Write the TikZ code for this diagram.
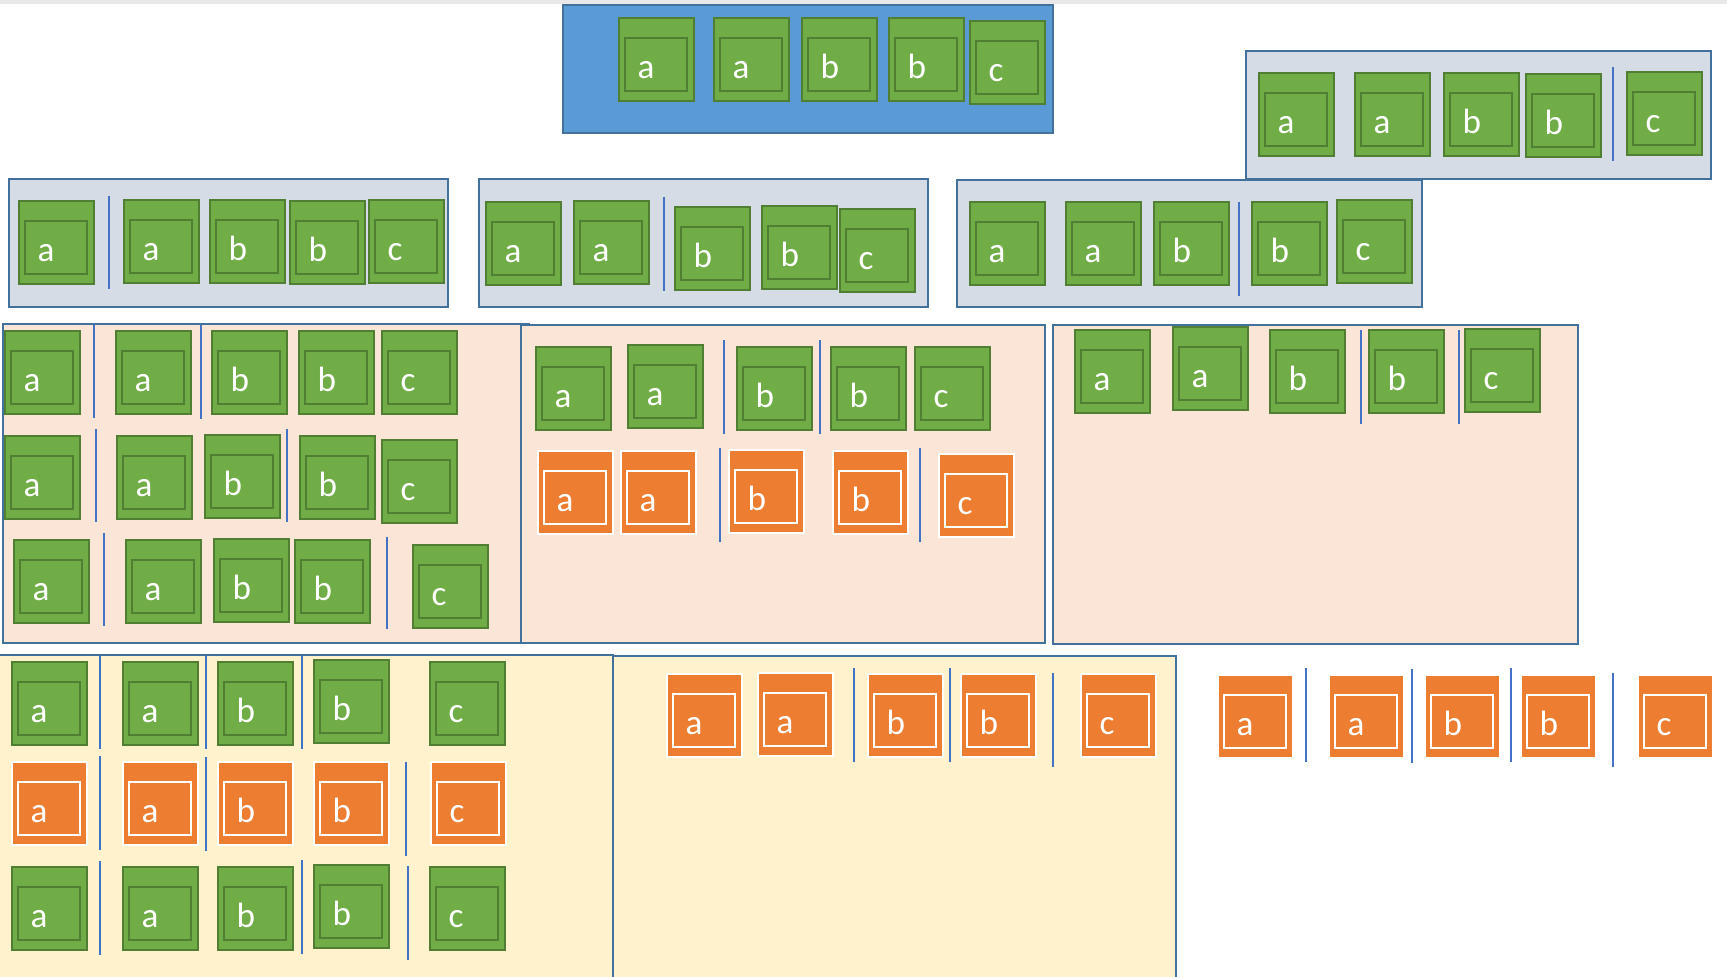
\documentclass[tikz,border=0pt]{standalone}
\usepackage{fontspec}
\setmainfont{Carlito}
\usepackage{tikz}

\definecolor{gfill}{HTML}{70AD47}
\definecolor{gdraw}{HTML}{507E32}
\definecolor{ofill}{HTML}{ED7D31}
\definecolor{sepblue}{HTML}{4472C4}
\definecolor{pborder}{HTML}{41719C}
\definecolor{bluefill}{HTML}{5B9BD5}
\definecolor{grayfill}{HTML}{D6DCE5}
\definecolor{peachfill}{HTML}{FBE5D6}
\definecolor{yellowfill}{HTML}{FFF2CC}

% 一个方块: #1 = g/o, #2 = 名字, #3,#4 = 左上角, #5 = 字母
\newcommand{\blk}[5]{%
  \node[#1out] (#2) at (#3,#4) {};
  \node[#1in] (#2in) at ([shift={(6,20)}]#2.north west) {};
  \node[ltr] (#2t) at ([shift={(18,61)}]#2.north west) {#5};
}

\begin{document}
\begin{tikzpicture}[
                x=0.01cm, y=-0.01cm,
                gout/.style={
                    rectangle,
                    draw=gdraw,
                    fill=gfill,
                    line width=0.55pt,
                    minimum width=7.5mm,
                    minimum height=8.3mm,
                    inner sep=0,
                    outer sep=0,
                    anchor=north west
                },
                gin/.style={
                    rectangle,
                    draw=gdraw,
                    line width=0.55pt,
                    minimum width=6.2mm,
                    minimum height=5.3mm,
                    inner sep=0,
                    outer sep=0,
                    anchor=north west
                },
                oout/.style={gout, draw=white, fill=ofill, line width=0.75pt},
                oin/.style={gin, draw=white, line width=0.75pt},
                ltr/.style={
                    anchor=base west,
                    inner sep=0,
                    text=white,
                    font=\fontsize{10}{12}\selectfont
                },
                sepl/.style={draw=sepblue, line width=0.8pt},
                panel/.style={draw=pborder, line width=0.5pt}
            ]
            \useasboundingbox (0,0) rectangle (1727,977);
            \clip (0,0) rectangle (1727,977);
            \fill[gray!18] (0,0) rectangle (1727,4);

            % 底板
            \draw[panel, fill=bluefill] (563,5) rectangle (1053,133);
            \draw[panel, fill=grayfill] (1246,51) rectangle (1711,179);
            \draw[panel, fill=grayfill] (9,179) rectangle (448,307);
            \draw[panel, fill=grayfill] (479,179) rectangle (928,307);
            \draw[panel, fill=grayfill] (957,180) rectangle (1422,307);
            \draw[panel, fill=peachfill] (3,324) rectangle (529,643);
            \draw[panel, fill=peachfill] (521,325) rectangle (1045,643);
            \draw[panel, fill=peachfill] (1053,325) rectangle (1578,644);
            \draw[panel, fill=yellowfill] (-3,655) rectangle (613,990);
            \draw[panel, fill=yellowfill] (613,656) rectangle (1176,990);

            % 第一行
            \foreach \x/\y/\lt [count=\i] in {619/18/a, 714/18/a, 802/18/b, 889/18/b, 970/21/c}
                {\blk{g}{top\i}{\x}{\y}{\lt}}
            \foreach \x/\y/\lt [count=\i] in {1259/73/a, 1355/73/a, 1444/73/b, 1526/74/b, 1627/72/c}
                {\blk{g}{tr\i}{\x}{\y}{\lt}}
            \draw[sepl] (1613,67) -- (1613,161);

            % 第二行
            \foreach \x/\y/\lt [count=\i] in {19/201/a, 124/200/a, 210/200/b, 290/201/b, 369/200/c}
                {\blk{g}{sa\i}{\x}{\y}{\lt}}
            \foreach \x/\y/\lt [count=\i] in {486/202/a, 574/201/a, 675/207/b, 762/206/b, 840/209/c}
                {\blk{g}{sb\i}{\x}{\y}{\lt}}
            \foreach \x/\y/\lt [count=\i] in {970/202/a, 1066/202/a, 1154/202/b, 1252/202/b, 1337/200/c}
                {\blk{g}{sc\i}{\x}{\y}{\lt}}
            \draw[sepl] (109,196) -- (109,289);
            \draw[sepl] (664,197) -- (664,291);
            \draw[sepl] (1239,202) -- (1239,296);

            % 第三行
            \foreach \x/\y/\lt [count=\i] in {5/331/a, 116/331/a, 212/331/b, 299/331/b, 382/331/c}
                {\blk{g}{pa\i}{\x}{\y}{\lt}}
            \foreach \x/\y/\lt [count=\i] in {5/436/a, 117/436/a, 205/435/b, 300/436/b, 382/440/c}
                {\blk{g}{pb\i}{\x}{\y}{\lt}}
            \foreach \x/\y/\lt [count=\i] in {14/540/a, 126/540/a, 214/539/b, 295/540/b, 413/545/c}
                {\blk{g}{pc\i}{\x}{\y}{\lt}}
            \foreach \x/\y/\lt [count=\i] in {536/347/a, 628/345/a, 737/347/b, 831/347/b, 915/347/c}
                {\blk{g}{pd\i}{\x}{\y}{\lt}}
            \foreach \x/\y/\lt [count=\i] in {538/451/a, 621/451/a, 729/450/b, 833/451/b, 939/454/c}
                {\blk{o}{pe\i}{\x}{\y}{\lt}}
            \foreach \x/\y/\lt [count=\i] in {1075/330/a, 1173/327/a, 1270/330/b, 1369/330/b, 1465/329/c}
                {\blk{g}{pf\i}{\x}{\y}{\lt}}
            \foreach \x/\a/\b in {94/325/418, 201/325/419, 96/429/522, 287/429/522,
                                  104/533/626, 387/537/629, 724/340/434, 820/340/434,
                                  720/448/542, 920/448/542, 1361/330/424, 1459/330/424}
                {\draw[sepl] (\x,\a) -- (\x,\b);}

            % 第四行
            \foreach \x/\y/\lt [count=\i] in {12/662/a, 123/662/a, 218/662/b, 314/660/b, 430/662/c}
                {\blk{g}{ya\i}{\x}{\y}{\lt}}
            \foreach \x/\y/\lt [count=\i] in {12/762/a, 123/762/a, 218/762/b, 314/762/b, 431/762/c}
                {\blk{o}{yb\i}{\x}{\y}{\lt}}
            \foreach \x/\y/\lt [count=\i] in {12/867/a, 123/867/a, 218/867/b, 314/865/b, 430/867/c}
                {\blk{g}{yc\i}{\x}{\y}{\lt}}
            \foreach \x/\y/\lt [count=\i] in {667/674/a, 758/673/a, 868/674/b, 961/674/b, 1081/674/c}
                {\blk{o}{yd\i}{\x}{\y}{\lt}}
            \foreach \x/\y/\lt [count=\i] in {1218/675/a, 1329/675/a, 1425/675/b, 1521/675/b, 1638/675/c}
                {\blk{o}{ye\i}{\x}{\y}{\lt}}
            \foreach \x/\a/\b in {100/656/749, 206/656/749, 302/656/749, 100/756/850,
                                  206/757/851, 406/762/856, 100/861/955, 302/860/954,
                                  408/866/960, 854/668/762, 950/668/762, 1053/673/767,
                                  1306/668/762, 1412/669/763, 1511/668/762, 1613/673/767}
                {\draw[sepl] (\x,\a) -- (\x,\b);}
            \end{tikzpicture}
\end{document}
